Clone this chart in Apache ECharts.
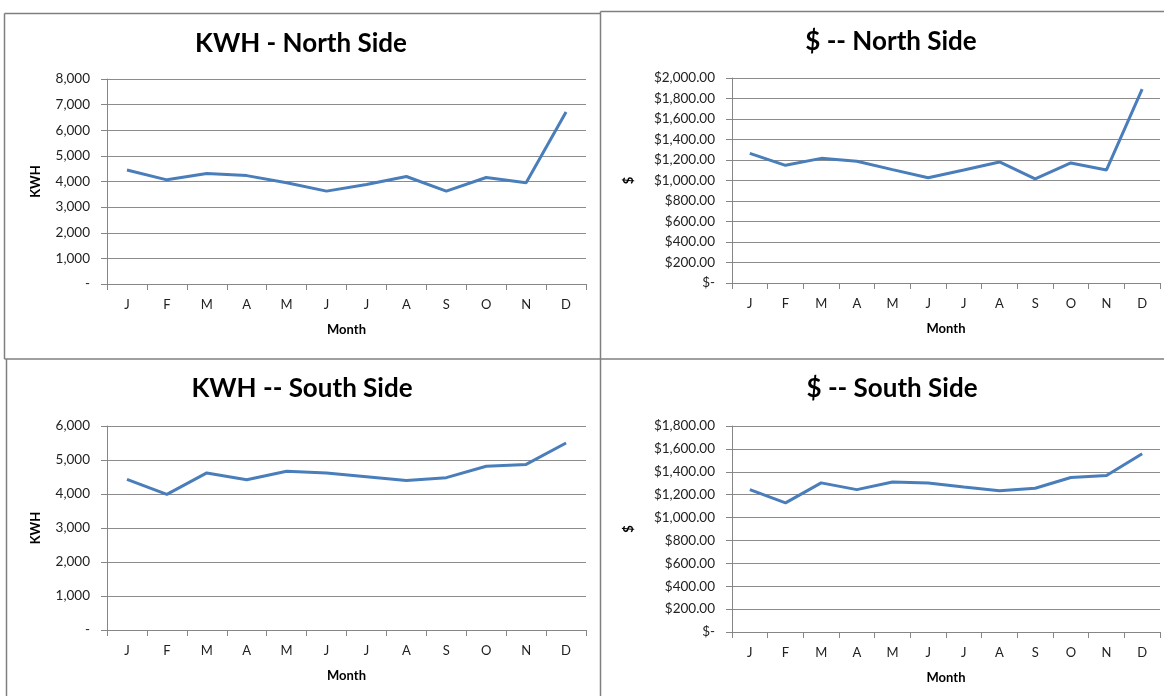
<!DOCTYPE html>
<html>
<head>
<meta charset="utf-8">
<script src="https://cdn.jsdelivr.net/npm/echarts@6/dist/echarts.min.js"></script>
<style>
html,body{margin:0;padding:0;background:#fff;}
#c{width:1164px;height:696px;}
</style>
</head>
<body>
<div id="c"></div>
<script>
var months = ['J','F','M','A','M','J','J','A','S','O','N','D'];
var kwhNorth = [4450, 4065, 4310, 4230, 3950, 3625, 3880, 4195, 3625, 4155, 3950, 6710];
var dollarNorth = [1265, 1148, 1216, 1187, 1106, 1026, 1103, 1181, 1016, 1171, 1103, 1892];
var kwhSouth = [4430, 3990, 4620, 4420, 4670, 4615, 4510, 4395, 4480, 4815, 4870, 5500];
var dollarSouth = [1244, 1128, 1303, 1244, 1310, 1302, 1268, 1235, 1256, 1350, 1368, 1558];
var titles = ['KWH - North Side', '$ -- North Side', 'KWH -- South Side', '$ -- South Side'];
var yNames = ['KWH', '$', 'KWH', '$'];
var xName = 'Month';

var FONT = 'Lato, "Open Sans", sans-serif';
var grids = [
  {left:107, top:79, width:479, height:205},
  {left:732, top:78, width:428, height:205},
  {left:107, top:426, width:479, height:204},
  {left:732, top:426, width:428, height:206}
];
var titlePos = [{x:301, y:31}, {x:891, y:29}, {x:302, y:376}, {x:892, y:376}];
var yCfg = [
  {max:8000, interval:1000, money:false, gap:65},
  {max:2000, interval:200, money:true, gap:97},
  {max:6000, interval:1000, money:false, gap:65},
  {max:1800, interval:200, money:true, gap:97}
];
var seriesData = [kwhNorth, dollarNorth, kwhSouth, dollarSouth];

function fmtKwh(v){ return v === 0 ? '-' : v.toLocaleString('en-US'); }
function fmtMoney(v){ return v === 0 ? '$-' : '$' + v.toLocaleString('en-US', {minimumFractionDigits:2, maximumFractionDigits:2}); }

var option = {
  backgroundColor:'#ffffff',
  animation:false,
  textStyle:{fontFamily:FONT},
  title: titles.map(function(t,i){
    return {text:t, left:titlePos[i].x, top:titlePos[i].y, textAlign:'center', padding:0,
      textStyle:{fontFamily:FONT, fontWeight:'bold', fontSize:26, color:'#000'}};
  }),
  grid: grids.map(function(g){ return Object.assign({containLabel:false}, g); }),
  xAxis: grids.map(function(g,i){
    return {type:'category', gridIndex:i, data:months, boundaryGap:true,
      name:xName, nameLocation:'middle', nameGap:39,
      nameTextStyle:{fontFamily:FONT, fontWeight:'bold', fontSize:13, color:'#000'},
      axisLine:{lineStyle:{color:'#868686', width:1}},
      axisTick:{show:true, inside:false, length:6, lineStyle:{color:'#868686'}},
      axisLabel:{fontFamily:FONT, fontSize:13, color:'#222', margin:14}};
  }),
  yAxis: grids.map(function(g,i){
    var c = yCfg[i];
    return {type:'value', gridIndex:i, min:0, max:c.max, interval:c.interval,
      name:yNames[i], nameLocation:'middle', nameRotate:90, nameGap:c.gap,
      nameTextStyle:{fontFamily:FONT, fontWeight:'bold', fontSize:13, color:'#000'},
      axisLine:{show:true, lineStyle:{color:'#868686', width:1}},
      axisTick:{show:true, inside:false, length:6, lineStyle:{color:'#868686'}},
      splitLine:{show:true, lineStyle:{color:'#8c8c8c', width:1}},
      axisLabel:{fontFamily:FONT, fontSize:13.5, color:'#222', margin:17,
        formatter: c.money ? fmtMoney : fmtKwh}};
  }),
  series: seriesData.map(function(d,i){
    return {type:'line', xAxisIndex:i, yAxisIndex:i, data:d, showSymbol:false, symbol:'none',
      lineStyle:{color:'#4a7ebb', width:3}, itemStyle:{color:'#4a7ebb'}};
  }),
  graphic: [
    {type:'line', shape:{x1:4.5, y1:13.5, x2:600.5, y2:13.5}, style:{stroke:'#7f7f7f', lineWidth:1.5}, silent:true},
    {type:'line', shape:{x1:4.5, y1:13.5, x2:4.5, y2:359}, style:{stroke:'#7f7f7f', lineWidth:1.5}, silent:true},
    {type:'line', shape:{x1:6.5, y1:359, x2:6.5, y2:696}, style:{stroke:'#7f7f7f', lineWidth:1.5}, silent:true},
    {type:'line', shape:{x1:600.5, y1:11.5, x2:600.5, y2:696}, style:{stroke:'#7f7f7f', lineWidth:1.5}, silent:true},
    {type:'line', shape:{x1:600.5, y1:11.5, x2:1164, y2:11.5}, style:{stroke:'#7f7f7f', lineWidth:1.5}, silent:true},
    {type:'line', shape:{x1:4.5, y1:359, x2:1164, y2:359}, style:{stroke:'#7f7f7f', lineWidth:1.5}, silent:true}
  ]
};
var chart = echarts.init(document.getElementById('c'), null, {renderer:'canvas'});
chart.setOption(option);
</script>
</body>
</html>
